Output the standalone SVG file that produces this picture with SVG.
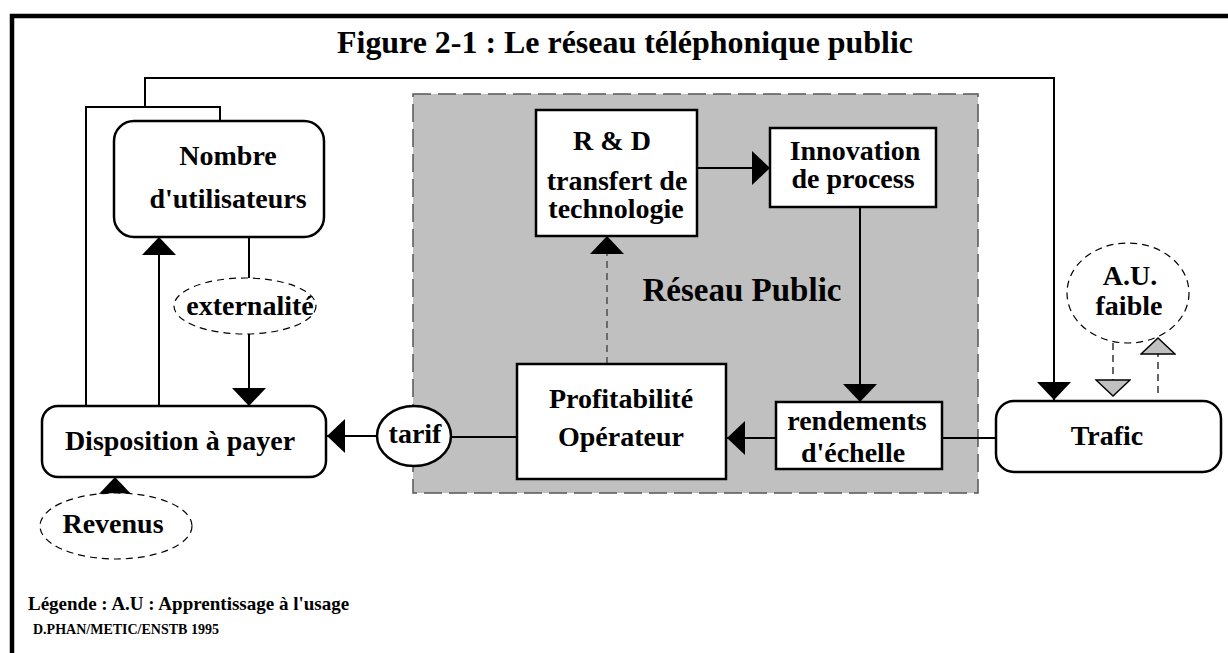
<svg xmlns="http://www.w3.org/2000/svg" width="1228" height="653" viewBox="0 0 1228 653">
<style>
text{font-family:"Liberation Serif","Times New Roman",serif;font-weight:bold;fill:#000;text-anchor:middle}
.t28{font-size:28px}
.box{fill:#fff;stroke:#000;stroke-width:2.5}
.dash{fill:#fff;stroke:#000;stroke-width:1.2;stroke-dasharray:7 5}
.ln{fill:none;stroke:#000;stroke-width:2}
.dl{fill:none;stroke:#000;stroke-width:1.2;stroke-dasharray:7 5}
.gl{fill:none;stroke:#555;stroke-width:1.6;stroke-dasharray:7 5}
.arr{marker-end:url(#ah)}
</style>
<defs>
<marker id="ah" viewBox="0 0 18 34" refX="18" refY="17" markerWidth="18" markerHeight="34" markerUnits="userSpaceOnUse" orient="auto">
<path d="M0,0 L18,17 L0,34 z" fill="#000" stroke="none"/>
</marker>
<marker id="gh" viewBox="-1 -1 19 36" refX="16" refY="17" markerWidth="19" markerHeight="36" markerUnits="userSpaceOnUse" orient="auto">
<path d="M0,0 L16,17 L0,34 z" fill="#c0c0c0" stroke="#000" stroke-width="1.5" stroke-dasharray="none"/>
</marker>
</defs>
<rect width="1228" height="653" fill="#fff"/>
<path d="M1235,16 H12 V660" fill="none" stroke="#000" stroke-width="4.5"/>
<text x="625" y="53" font-size="31" textLength="576" lengthAdjust="spacingAndGlyphs">Figure 2-1 : Le réseau téléphonique public</text>

<g id="reseau-public">
<rect x="413" y="94" width="565" height="399" fill="#c0c0c0" stroke="#555" stroke-width="1.5" stroke-dasharray="18 7"/>
<text x="742" y="301" font-size="33">Réseau Public</text>
</g>

<g id="connectors">
<polyline class="ln arr" points="145,107 145,78 1054,78 1054,400"/>
<polyline class="ln" points="86,406 86,107 220,107 220,121"/>
<line class="ln arr" x1="159" y1="406" x2="159" y2="237"/>
<line class="ln" x1="249" y1="237" x2="249" y2="278"/>
<line class="ln arr" x1="249" y1="334" x2="249" y2="406"/>
<line class="ln arr" x1="115" y1="493" x2="115" y2="477"/>
<line class="ln arr" x1="377" y1="436" x2="327" y2="436"/>
<line class="ln" x1="451" y1="437" x2="517" y2="437"/>
<line class="ln arr" x1="776" y1="438" x2="727" y2="438"/>
<line class="ln" x1="942" y1="438" x2="996" y2="438"/>
<line class="ln arr" x1="860" y1="207" x2="860" y2="402"/>
<line class="ln arr" x1="697" y1="168" x2="770" y2="168"/>
<line class="gl arr" x1="607" y1="364" x2="607" y2="236"/>
<line class="dl" x1="1113" y1="343" x2="1113" y2="396" marker-end="url(#gh)"/>
<line class="dl" x1="1158" y1="393" x2="1158" y2="338" marker-end="url(#gh)"/>
</g>

<g id="nombre">
<rect class="box" x="114" y="121" width="210" height="116" rx="20"/>
<text class="t28" x="228" y="165">Nombre</text>
<text class="t28" x="228" y="208">d'utilisateurs</text>
</g>
<g id="externalite">
<ellipse class="dash" cx="245" cy="306" rx="71" ry="28"/>
<text class="t28" x="250" y="315">externalité</text>
</g>
<g id="disposition">
<rect class="box" x="42" y="406" width="284" height="71" rx="16"/>
<text class="t28" x="180" y="450">Disposition à payer</text>
</g>
<g id="revenus">
<ellipse class="dash" cx="116" cy="526" rx="76" ry="33"/>
<text class="t28" x="113" y="533">Revenus</text>
</g>
<g id="rd">
<rect class="box" x="536" y="110" width="161" height="126"/>
<text class="t28" x="612" y="150">R &amp; D</text>
<text class="t28" x="617" y="190">transfert de</text>
<text class="t28" x="616" y="218">technologie</text>
</g>
<g id="innovation">
<rect class="box" x="770" y="128" width="166" height="79"/>
<text class="t28" x="855" y="160">Innovation</text>
<text class="t28" x="853" y="188">de process</text>
</g>
<g id="profitabilite">
<rect class="box" x="517" y="364" width="209" height="115"/>
<text class="t28" x="621" y="408">Profitabilité</text>
<text class="t28" x="621" y="446">Opérateur</text>
</g>
<g id="rendements">
<rect class="box" x="776" y="402" width="166" height="67"/>
<text class="t28" x="857" y="430">rendements</text>
<text class="t28" x="853" y="462">d'échelle</text>
</g>
<g id="tarif">
<ellipse class="box" cx="414" cy="436" rx="37" ry="30"/>
<text class="t28" x="415" y="443">tarif</text>
</g>
<g id="trafic">
<rect class="box" x="996" y="401" width="225" height="71" rx="18"/>
<text class="t28" x="1107" y="445">Trafic</text>
</g>
<g id="au-faible">
<ellipse class="dash" cx="1128" cy="293" rx="61" ry="50"/>
<text class="t28" x="1130" y="285">A.U.</text>
<text class="t28" x="1129" y="315">faible</text>
</g>
<g id="legende">
<text x="28" y="610" font-size="19" style="text-anchor:start">Légende : A.U : Apprentissage à l'usage</text>
<text x="33" y="634" font-size="14" style="text-anchor:start">D.PHAN/METIC/ENSTB 1995</text>
</g>
</svg>
